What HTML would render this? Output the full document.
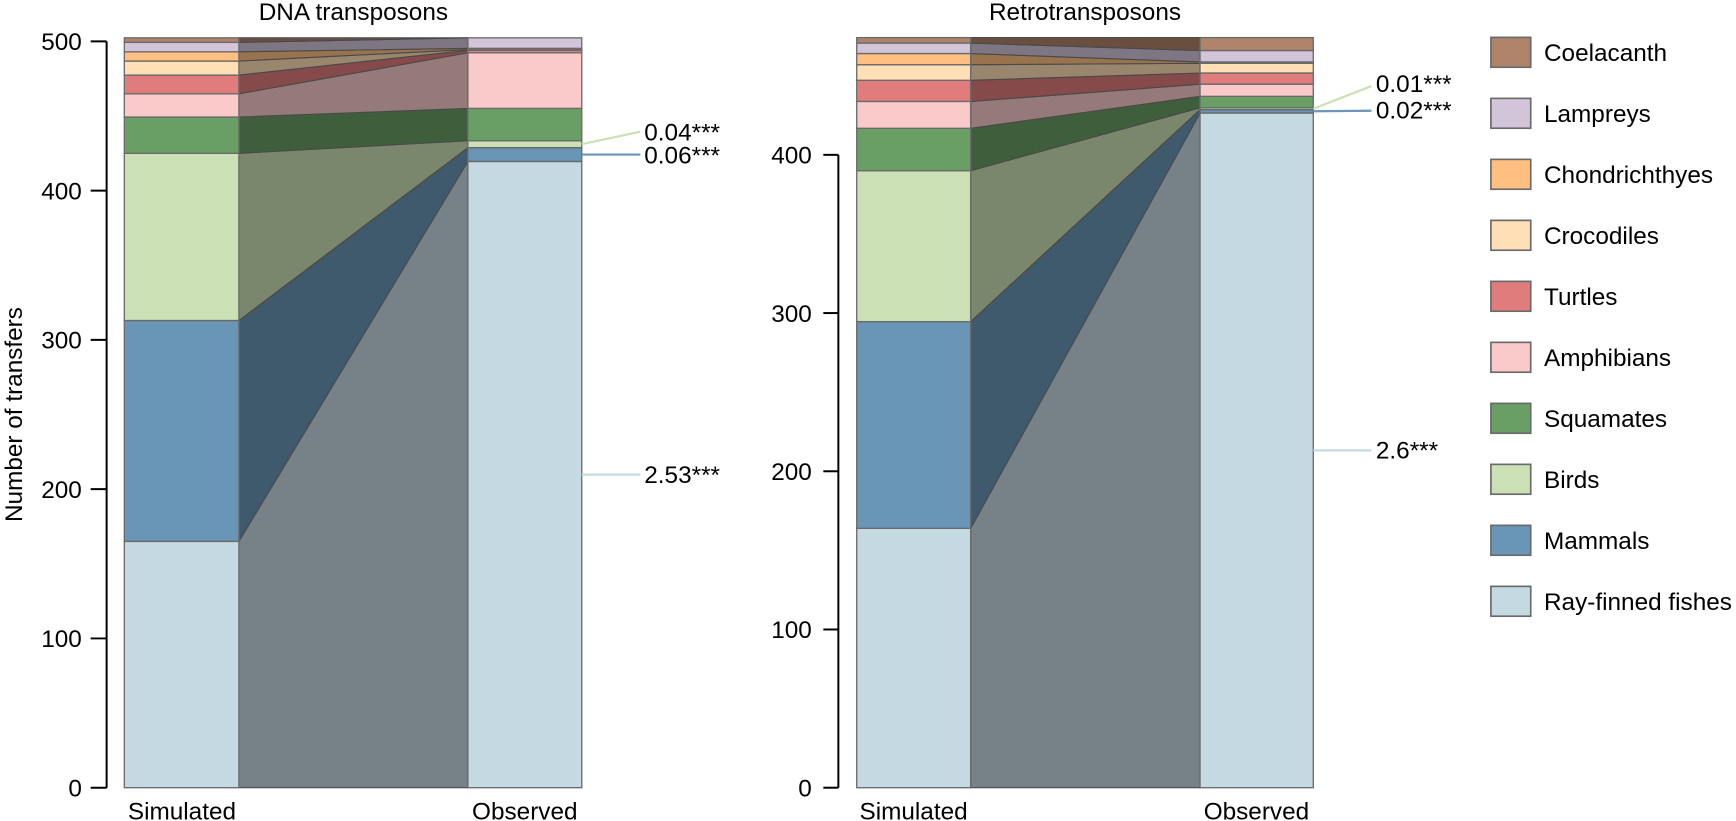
<!DOCTYPE html>
<html><head><meta charset="utf-8"><style>
html,body{margin:0;padding:0;background:#fff;}
svg{display:block;}
text{font-family:"Liberation Sans",Arial,sans-serif;fill:#000;}
</style></head><body>
<svg width="1736" height="821" viewBox="0 0 1569.6 742.3" xmlns="http://www.w3.org/2000/svg">
<rect width="1569.6" height="742.3" fill="#fff"/>

<!-- ===== LEFT CHART ===== -->
<text x="319.5" y="18" font-size="22" text-anchor="middle">DNA transposons</text>
<g stroke="#4a4a4a" stroke-width="1" stroke-linejoin="round">
<polygon fill="#768288" points="216,712.2 216,489.5 423,146.0 423,712.2"/>
<polygon fill="#3f596d" points="216,489.5 216,289.8 423,133.5 423,146.0"/>
<polygon fill="#7a876d" points="216,289.8 216,138.6 423,127.2 423,133.5"/>
<polygon fill="#3f5f3c" points="216,138.6 216,105.8 423,98.0 423,127.2"/>
<polygon fill="#967979" points="216,105.8 216,84.8 423,47.7 423,98.0"/>
<polygon fill="#874a4a" points="216,84.8 216,67.9 423,45.5 423,47.7"/>
<polygon fill="#99866d" points="216,67.9 216,55.2 423,44.8 423,45.5"/>
<polygon fill="#99734d" points="216,55.2 216,46.8 423,43.7 423,44.8"/>
<polygon fill="#7e7683" points="216,46.8 216,38.3 423,34.2 423,43.7"/>
<polygon fill="#6a4f40" points="216,38.3 216,34.2 423,34.2 423,34.2"/>
</g>
<g stroke="#6a6a6a" stroke-width="1.2">
<rect x="112.4" y="489.5" width="103.6" height="222.7" fill="#c5d9e2"/>
<rect x="112.4" y="289.8" width="103.6" height="199.7" fill="#6995b6"/>
<rect x="112.4" y="138.6" width="103.6" height="151.2" fill="#cbe1b5"/>
<rect x="112.4" y="105.8" width="103.6" height="32.8" fill="#699f64"/>
<rect x="112.4" y="84.8" width="103.6" height="21.0" fill="#fac9c9"/>
<rect x="112.4" y="67.9" width="103.6" height="16.9" fill="#e17c7c"/>
<rect x="112.4" y="55.2" width="103.6" height="12.7" fill="#ffdfb5"/>
<rect x="112.4" y="46.8" width="103.6" height="8.4" fill="#ffbf80"/>
<rect x="112.4" y="38.3" width="103.6" height="8.5" fill="#d2c5da"/>
<rect x="112.4" y="34.2" width="103.6" height="4.1" fill="#b0836b"/>

<rect x="423" y="146.0" width="103" height="566.2" fill="#c5d9e2"/>
<rect x="423" y="133.5" width="103" height="12.5" fill="#6995b6"/>
<rect x="423" y="127.2" width="103" height="6.3" fill="#cbe1b5"/>
<rect x="423" y="98.0" width="103" height="29.2" fill="#699f64"/>
<rect x="423" y="47.7" width="103" height="50.3" fill="#fac9c9"/>
<rect x="423" y="45.5" width="103" height="2.2" fill="#e17c7c"/>
<rect x="423" y="44.8" width="103" height="0.7" fill="#ffdfb5"/>
<rect x="423" y="43.7" width="103" height="1.1" fill="#ffbf80"/>
<rect x="423" y="34.2" width="103" height="9.5" fill="#d2c5da"/>
</g>
<!-- axis -->
<g stroke="#000" stroke-width="1.8" fill="none">
<line x1="96.4" y1="37.4" x2="96.4" y2="712.2"/>
<line x1="82" y1="712.2" x2="96.4" y2="712.2"/>
<line x1="82" y1="577.24" x2="96.4" y2="577.24"/>
<line x1="82" y1="442.28" x2="96.4" y2="442.28"/>
<line x1="82" y1="307.32" x2="96.4" y2="307.32"/>
<line x1="82" y1="172.36" x2="96.4" y2="172.36"/>
<line x1="82" y1="37.4" x2="96.4" y2="37.4"/>
</g>
<g font-size="22" text-anchor="end">
<text x="74" y="720.1">0</text>
<text x="74" y="585.1">100</text>
<text x="74" y="450.2">200</text>
<text x="74" y="315.2">300</text>
<text x="74" y="180.3">400</text>
<text x="74" y="45.3">500</text>
</g>
<text transform="translate(20,374.8) rotate(-90)" font-size="22" text-anchor="middle">Number of transfers</text>
<text x="164.5" y="741" font-size="22" text-anchor="middle">Simulated</text>
<text x="474.5" y="741" font-size="22" text-anchor="middle">Observed</text>
<!-- annotations -->
<g stroke-width="2" fill="none">
<line x1="526" y1="130.35" x2="579" y2="119.1" stroke="#cbe1b5"/>
<line x1="526" y1="139.75" x2="579" y2="139.75" stroke="#6995b6"/>
<line x1="526" y1="429.1" x2="579" y2="429.1" stroke="#c5d9e2"/>
</g>
<g font-size="22">
<text x="582.5" y="127">0.04***</text>
<text x="582.5" y="148">0.06***</text>
<text x="582.5" y="436.5">2.53***</text>
</g>

<!-- ===== RIGHT CHART ===== -->
<text x="981" y="18" font-size="22" text-anchor="middle">Retrotransposons</text>
<g stroke="#4a4a4a" stroke-width="1" stroke-linejoin="round">
<polygon fill="#768288" points="877.6,712.2 877.6,477.7 1085,102.2 1085,712.2"/>
<polygon fill="#3f596d" points="877.6,477.7 877.6,290.8 1085,99.1 1085,102.2"/>
<polygon fill="#7a876d" points="877.6,290.8 877.6,154.3 1085,97.5 1085,99.1"/>
<polygon fill="#3f5f3c" points="877.6,154.3 877.6,116.0 1085,87.1 1085,97.5"/>
<polygon fill="#967979" points="877.6,116.0 877.6,91.7 1085,76.1 1085,87.1"/>
<polygon fill="#874a4a" points="877.6,91.7 877.6,72.6 1085,66.0 1085,76.1"/>
<polygon fill="#99866d" points="877.6,72.6 877.6,58.5 1085,57.2 1085,66.0"/>
<polygon fill="#99734d" points="877.6,58.5 877.6,48.4 1085,56.0 1085,57.2"/>
<polygon fill="#7e7683" points="877.6,48.4 877.6,38.9 1085,45.7 1085,56.0"/>
<polygon fill="#6a4f40" points="877.6,38.9 877.6,34.0 1085,34.0 1085,45.7"/>
</g>
<g stroke="#6a6a6a" stroke-width="1.2">
<rect x="774.6" y="477.7" width="103" height="234.5" fill="#c5d9e2"/>
<rect x="774.6" y="290.8" width="103" height="186.9" fill="#6995b6"/>
<rect x="774.6" y="154.3" width="103" height="136.5" fill="#cbe1b5"/>
<rect x="774.6" y="116.0" width="103" height="38.3" fill="#699f64"/>
<rect x="774.6" y="91.7" width="103" height="24.3" fill="#fac9c9"/>
<rect x="774.6" y="72.6" width="103" height="19.1" fill="#e17c7c"/>
<rect x="774.6" y="58.5" width="103" height="14.1" fill="#ffdfb5"/>
<rect x="774.6" y="48.4" width="103" height="10.1" fill="#ffbf80"/>
<rect x="774.6" y="38.9" width="103" height="9.5" fill="#d2c5da"/>
<rect x="774.6" y="34.0" width="103" height="4.9" fill="#b0836b"/>

<rect x="1085" y="102.2" width="102.4" height="610.0" fill="#c5d9e2"/>
<rect x="1085" y="99.1" width="102.4" height="3.1" fill="#6995b6"/>
<rect x="1085" y="97.5" width="102.4" height="1.6" fill="#cbe1b5"/>
<rect x="1085" y="87.1" width="102.4" height="10.4" fill="#699f64"/>
<rect x="1085" y="76.1" width="102.4" height="11.0" fill="#fac9c9"/>
<rect x="1085" y="66.0" width="102.4" height="10.1" fill="#e17c7c"/>
<rect x="1085" y="57.2" width="102.4" height="8.8" fill="#ffdfb5"/>
<rect x="1085" y="56.0" width="102.4" height="1.2" fill="#ffbf80"/>
<rect x="1085" y="45.7" width="102.4" height="10.3" fill="#d2c5da"/>
<rect x="1085" y="34.0" width="102.4" height="11.7" fill="#b0836b"/>
</g>
<g stroke="#000" stroke-width="1.8" fill="none">
<line x1="758" y1="140" x2="758" y2="712.2"/>
<line x1="744.4" y1="712.2" x2="758" y2="712.2"/>
<line x1="744.4" y1="569.15" x2="758" y2="569.15"/>
<line x1="744.4" y1="426.1" x2="758" y2="426.1"/>
<line x1="744.4" y1="283.05" x2="758" y2="283.05"/>
<line x1="744.4" y1="140" x2="758" y2="140"/>
</g>
<g font-size="22" text-anchor="end">
<text x="734" y="720.1">0</text>
<text x="734" y="577">100</text>
<text x="734" y="434">200</text>
<text x="734" y="291">300</text>
<text x="734" y="147.9">400</text>
</g>
<text x="826" y="741" font-size="22" text-anchor="middle">Simulated</text>
<text x="1136" y="741" font-size="22" text-anchor="middle">Observed</text>
<g stroke-width="2" fill="none">
<line x1="1187.4" y1="98.3" x2="1240" y2="77.8" stroke="#cbe1b5"/>
<line x1="1187.4" y1="100.6" x2="1240" y2="100.1" stroke="#6995b6"/>
<line x1="1187.4" y1="407.2" x2="1240" y2="407.2" stroke="#c5d9e2"/>
</g>
<g font-size="22">
<text x="1244" y="83.3">0.01***</text>
<text x="1244" y="107">0.02***</text>
<text x="1244" y="414.5">2.6***</text>
</g>

<!-- ===== LEGEND ===== -->
<g stroke="#6a6a6a" stroke-width="1.5">
<rect x="1348" y="33.8" width="36" height="27" fill="#b0836b"/>
<rect x="1348" y="88.95" width="36" height="27" fill="#d2c5da"/>
<rect x="1348" y="144.1" width="36" height="27" fill="#ffbf80"/>
<rect x="1348" y="199.25" width="36" height="27" fill="#ffdfb5"/>
<rect x="1348" y="254.4" width="36" height="27" fill="#e17c7c"/>
<rect x="1348" y="309.55" width="36" height="27" fill="#fac9c9"/>
<rect x="1348" y="364.7" width="36" height="27" fill="#699f64"/>
<rect x="1348" y="419.85" width="36" height="27" fill="#cbe1b5"/>
<rect x="1348" y="475" width="36" height="27" fill="#6995b6"/>
<rect x="1348" y="530.15" width="36" height="27" fill="#c5d9e2"/>
</g>
<g font-size="22">
<text x="1396" y="55.2">Coelacanth</text>
<text x="1396" y="110.35">Lampreys</text>
<text x="1396" y="165.5">Chondrichthyes</text>
<text x="1396" y="220.65">Crocodiles</text>
<text x="1396" y="275.8">Turtles</text>
<text x="1396" y="330.95">Amphibians</text>
<text x="1396" y="386.1">Squamates</text>
<text x="1396" y="441.25">Birds</text>
<text x="1396" y="496.4">Mammals</text>
<text x="1396" y="551.55">Ray-finned fishes</text>
</g>
</svg>
</body></html>
